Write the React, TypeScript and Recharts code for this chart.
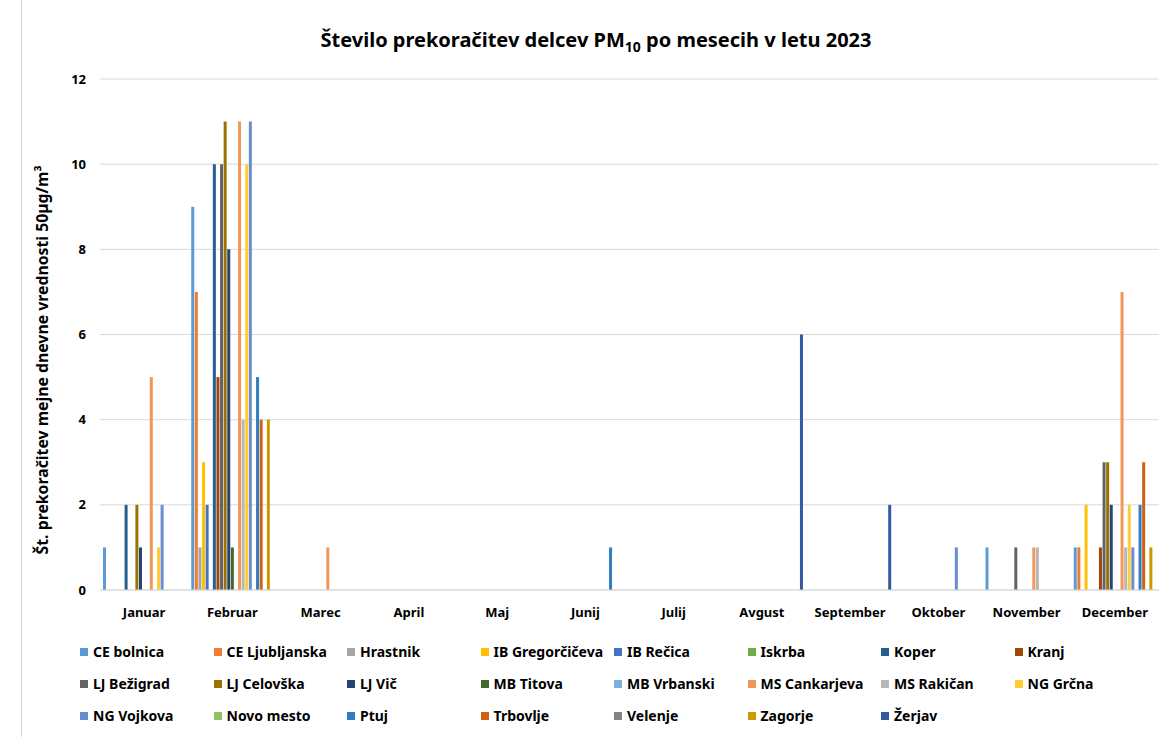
import React from 'react';
import { BarChart, Bar, XAxis, YAxis, CartesianGrid, Label } from 'recharts';

const months = ['Januar', 'Februar', 'Marec', 'April', 'Maj', 'Junij', 'Julij', 'Avgust', 'September', 'Oktober', 'November', 'December'];
const yTicks = [0, 2, 4, 6, 8, 10, 12];

// exceedances per station, Jan..Dec
const ceBolnica = [1, 9, 0, 0, 0, 0, 0, 0, 0, 0, 1, 1];
const ceLjubljanska = [0, 7, 0, 0, 0, 0, 0, 0, 0, 0, 0, 1];
const hrastnik = [0, 1, 0, 0, 0, 0, 0, 0, 0, 0, 0, 0];
const ibGregorciceva = [0, 3, 0, 0, 0, 0, 0, 0, 0, 0, 0, 2];
const ibRecica = [0, 2, 0, 0, 0, 0, 0, 0, 0, 0, 0, 0];
const iskrba = [0, 0, 0, 0, 0, 0, 0, 0, 0, 0, 0, 0];
const koper = [2, 10, 0, 0, 0, 0, 0, 0, 0, 0, 0, 0];
const kranj = [0, 5, 0, 0, 0, 0, 0, 0, 0, 0, 0, 1];
const ljBezigrad = [0, 10, 0, 0, 0, 0, 0, 0, 0, 0, 1, 3];
const ljCelovska = [2, 11, 0, 0, 0, 0, 0, 0, 0, 0, 0, 3];
const ljVic = [1, 8, 0, 0, 0, 0, 0, 0, 0, 0, 0, 2];
const mbTitova = [0, 1, 0, 0, 0, 0, 0, 0, 0, 0, 0, 0];
const mbVrbanski = [0, 0, 0, 0, 0, 0, 0, 0, 0, 0, 0, 0];
const msCankarjeva = [5, 11, 1, 0, 0, 0, 0, 0, 0, 0, 1, 7];
const msRakican = [0, 4, 0, 0, 0, 0, 0, 0, 0, 0, 1, 1];
const ngGrcna = [1, 10, 0, 0, 0, 0, 0, 0, 0, 0, 0, 2];
const ngVojkova = [2, 11, 0, 0, 0, 0, 0, 0, 0, 1, 0, 1];
const novoMesto = [0, 0, 0, 0, 0, 0, 0, 0, 0, 0, 0, 0];
const ptuj = [0, 5, 0, 0, 0, 1, 0, 0, 0, 0, 0, 2];
const trbovlje = [0, 4, 0, 0, 0, 0, 0, 0, 0, 0, 0, 3];
const velenje = [0, 0, 0, 0, 0, 0, 0, 0, 0, 0, 0, 0];
const zagorje = [0, 4, 0, 0, 0, 0, 0, 0, 0, 0, 0, 1];
const zerjav = [0, 0, 0, 0, 0, 0, 0, 6, 2, 0, 0, 0];

const series = [
  { name: 'CE bolnica', color: '#5B9BD5', values: ceBolnica },
  { name: 'CE Ljubljanska', color: '#ED7D31', values: ceLjubljanska },
  { name: 'Hrastnik', color: '#A5A5A5', values: hrastnik },
  { name: 'IB Gregorčičeva', color: '#FFC000', values: ibGregorciceva },
  { name: 'IB Rečica', color: '#4472C4', values: ibRecica },
  { name: 'Iskrba', color: '#70AD47', values: iskrba },
  { name: 'Koper', color: '#255E91', values: koper },
  { name: 'Kranj', color: '#9E480E', values: kranj },
  { name: 'LJ Bežigrad', color: '#636363', values: ljBezigrad },
  { name: 'LJ Celovška', color: '#997300', values: ljCelovska },
  { name: 'LJ Vič', color: '#264478', values: ljVic },
  { name: 'MB Titova', color: '#43682B', values: mbTitova },
  { name: 'MB Vrbanski', color: '#7CAFDD', values: mbVrbanski },
  { name: 'MS Cankarjeva', color: '#F1975A', values: msCankarjeva },
  { name: 'MS Rakičan', color: '#B7B7B7', values: msRakican },
  { name: 'NG Grčna', color: '#FFCD33', values: ngGrcna },
  { name: 'NG Vojkova', color: '#698ED0', values: ngVojkova },
  { name: 'Novo mesto', color: '#8CC168', values: novoMesto },
  { name: 'Ptuj', color: '#327DC2', values: ptuj },
  { name: 'Trbovlje', color: '#D26012', values: trbovlje },
  { name: 'Velenje', color: '#848484', values: velenje },
  { name: 'Zagorje', color: '#CC9A00', values: zagorje },
  { name: 'Žerjav', color: '#335AA1', values: zerjav },
];

const data = months.map((m, i) => {
  const row: Record<string, string | number> = { month: m };
  series.forEach(s => { row[s.name] = s.values[i]; });
  return row;
});

const FONT = '"Noto Sans", sans-serif';
const tickStyle = { fill: '#000', fontSize: 13, fontWeight: 700, fontFamily: FONT };

const App = () => {
  return (
    <div style={{ position: 'absolute', left: 0, top: 0, width: 1163, height: 737, background: '#fff', fontFamily: FONT }}>
      <div style={{ position: 'absolute', left: 21, top: 0, width: 0, height: 737, borderLeft: '1px solid #D9D9D9' }} />
      <div style={{ position: 'absolute', left: 0, top: 26, width: 1192, textAlign: 'center', fontSize: 20, fontWeight: 700, color: '#000' }}>
        Število prekoračitev delcev PM<sub style={{ fontSize: 14 }}>10</sub> po mesecih v letu 2023
      </div>
      <div style={{ position: 'absolute', left: 0, top: 0 }}>
        <BarChart width={1163} height={737} data={data} margin={{ top: 79, right: 4, left: 40, bottom: 117 }}
          barSize={3} barGap={0.6} barCategoryGap={3}>
          <CartesianGrid vertical={false} stroke="#D9D9D9" />
          <XAxis dataKey="month" tickLine={false} axisLine={{ stroke: '#D9D9D9' }} tick={tickStyle} tickMargin={12} height={30} interval={0} />
          <YAxis domain={[0, 12]} ticks={yTicks} tickLine={false} axisLine={false} tick={tickStyle} tickMargin={8} width={60}>
            <Label
              content={() => (
                <text x={44} y={360} transform="rotate(-90 44 360)" textAnchor="middle" dominantBaseline="middle"
                  style={{ fontSize: 15.8, fontWeight: 700, fontFamily: FONT, fill: '#000' }}>
                  Št. prekoračitev mejne dnevne vrednosti 50µg/m³
                </text>
              )}
            />
          </YAxis>
          {series.map(s => (
            <Bar key={s.name} dataKey={s.name} fill={s.color} isAnimationActive={false} />
          ))}
        </BarChart>
      </div>
      {series.map((s, i) => (
        <div key={s.name} style={{
          position: 'absolute', left: 80 + (i % 8) * 133.5, top: 642 + Math.floor(i / 8) * 32,
          display: 'flex', alignItems: 'center', fontSize: 14, fontWeight: 700, color: '#000', whiteSpace: 'nowrap'
        }}>
          <span style={{ display: 'inline-block', width: 8, height: 8, background: s.color, marginRight: 5 }} />
          {s.name}
        </div>
      ))}
    </div>
  );
};

export default App;
